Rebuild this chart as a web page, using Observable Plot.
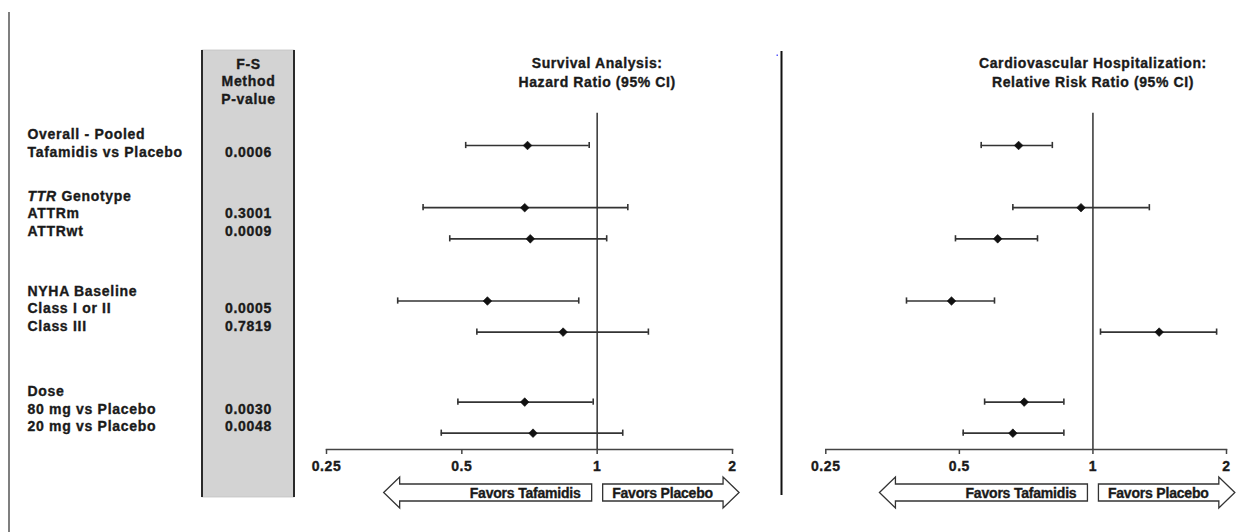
<!DOCTYPE html>
<html>
<head>
<meta charset="utf-8">
<script src="https://cdn.jsdelivr.net/npm/d3@7"></script>
<script src="https://cdn.jsdelivr.net/npm/@observablehq/plot@0.6"></script>
<style>
  body { margin: 0; background: #fff; }
  #wrap { position: relative; width: 1237px; height: 532px; overflow: hidden; background: #fff; }
  #wrap text { stroke: #1a1a1a; stroke-width: 0.35px; paint-order: stroke; }
</style>
</head>
<body>
<div id="wrap"></div>
<script>
// ---------------- DATA ----------------
const subgroups = ["Overall - Pooled Tafamidis vs Placebo", "ATTRm", "ATTRwt", "Class I or II", "Class III", "80 mg vs Placebo", "20 mg vs Placebo"];
const pValues = ["0.0006", "0.3001", "0.0009", "0.0005", "0.7819", "0.0030", "0.0048"];
// Survival analysis: hazard ratio (95% CI)
const hrEst = [0.70, 0.69, 0.71, 0.57, 0.84, 0.69, 0.72];
const hrLo  = [0.51, 0.41, 0.47, 0.36, 0.54, 0.49, 0.45];
const hrHi  = [0.96, 1.17, 1.05, 0.91, 1.30, 0.98, 1.14];
// CV hospitalization: relative risk ratio (95% CI)
const rrEst = [0.68, 0.94, 0.61, 0.48, 1.41, 0.70, 0.66];
const rrLo  = [0.56, 0.66, 0.49, 0.38, 1.04, 0.57, 0.51];
const rrHi  = [0.81, 1.34, 0.75, 0.60, 1.90, 0.86, 0.86];
const xTicks = [0.25, 0.5, 1, 2];
const tableLabels = ["Overall - Pooled", "Tafamidis vs Placebo", "TTR Genotype", "ATTRm", "ATTRwt", "NYHA Baseline", "Class I or II", "Class III", "Dose", "80 mg vs Placebo", "20 mg vs Placebo"];
const pHeader = ["F-S", "Method", "P-value"];
const panelTitles = [["Survival Analysis:", "Hazard Ratio (95% CI)"], ["Cardiovascular Hospitalization:", "Relative Risk Ratio (95% CI)"]];
const arrowLabels = ["Favors Tafamidis", "Favors Placebo"];

// ---------------- LAYOUT ----------------
const FONT = "'Liberation Sans', Arial, Helvetica, sans-serif";
const rowPos = [0, 2, 3, 5, 6, 8.25, 9.25];            // forest row slots
const labelLine = [0, 1, 3.5, 4.5, 5.5, 8.9, 9.9, 10.9, 14.6, 15.6, 16.6]; // table text lines
const pLine = [1, 4.5, 5.5, 9.9, 10.9, 15.6, 16.6];
const headLine = [-4, -3, -2];

const wrap = document.getElementById("wrap");

// background decorations
const deco = d3.create("svg").attr("width", 1237).attr("height", 532)
  .style("position", "absolute").style("left", "0").style("top", "0");
deco.append("line").attr("x1", 9).attr("x2", 9).attr("y1", 12).attr("y2", 532)
  .attr("stroke", "#555").attr("stroke-width", 1.5);
deco.append("rect").attr("x", 202).attr("y", 50).attr("width", 92).attr("height", 447)
  .attr("fill", "#d3d3d3").attr("stroke", "#c4c4c4").attr("stroke-width", 0.8);
deco.append("line").attr("x1", 202).attr("x2", 202).attr("y1", 50).attr("y2", 497).attr("stroke", "#2a2a2a").attr("stroke-width", 2);
deco.append("line").attr("x1", 294).attr("x2", 294).attr("y1", 50).attr("y2", 497).attr("stroke", "#2a2a2a").attr("stroke-width", 2);
deco.append("line").attr("x1", 781.5).attr("x2", 781.5).attr("y1", 51).attr("y2", 495)
  .attr("stroke", "#111").attr("stroke-width", 2);
deco.append("rect").attr("x", 776.5).attr("y", 54.5).attr("width", 1.5).attr("height", 1.5).attr("fill", "#5a5aff");
wrap.appendChild(deco.node());

// ---------------- TABLE ----------------
const labelRows = tableLabels.map((t, i) => ({t, line: labelLine[i]}));
const pRows = pValues.map((t, i) => ({t, line: pLine[i]}));
const headRows = pHeader.map((t, i) => ({t, line: headLine[i]}));
const table = Plot.plot({
  width: 300, height: 532, margin: 0,
  x: {type: "point", domain: ["label", "p"], range: [27, 248], padding: 0, align: 0, axis: null},
  y: {type: "linear", domain: [0, 16.6], range: [134, 426.2], axis: null},
  style: {position: "absolute", left: "0px", top: "0px", background: "transparent", fontFamily: FONT, fontSize: "14px", fontWeight: "bold", letterSpacing: "0.7px", color: "#1a1a1a"},
  marks: [
    Plot.text(labelRows, {x: () => "label", y: "line", text: "t", textAnchor: "start", fill: "#1a1a1a"}),
    Plot.text(pRows, {x: () => "p", y: "line", text: "t", fill: "#1a1a1a"}),
    Plot.text(headRows, {x: () => "p", y: "line", text: "t", fill: "#1a1a1a"})
  ]
});
// italic gene symbol in "TTR Genotype"
d3.select(table).selectAll("text").each(function() {
  if (this.textContent === "TTR Genotype") {
    this.textContent = "";
    d3.select(this).append("tspan").attr("font-style", "italic").text("TTR");
    d3.select(this).append("tspan").text(" Genotype");
  }
});
wrap.appendChild(table);

// ---------------- FOREST PANELS ----------------
function forest({est, lo, hi, titles, left, width, mL, mR}) {
  const data = subgroups.map((s, i) => ({s, est: est[i], lo: lo[i], hi: hi[i], row: rowPos[i]}));
  const plot = Plot.plot({
    width, height: 532, marginLeft: mL, marginRight: mR, marginTop: 0, marginBottom: 83,
    x: {type: "log", domain: [0.25, 2]},
    y: {type: "linear", domain: [0, 9.25], range: [145, 432.7], axis: null},
    style: {position: "absolute", left: left + "px", top: "0px", background: "transparent", fontFamily: FONT, fontSize: "14px", fontWeight: "bold", letterSpacing: "0.6px", overflow: "visible"},
    marks: [
      Plot.frame({anchor: "bottom", stroke: "#444", strokeWidth: 1.5}),
      Plot.axisX(xTicks, {tickSize: 5, tickPadding: 7, stroke: "#444", strokeWidth: 1.5, fill: "#1a1a1a", label: null, tickFormat: d => String(d)}),
      Plot.ruleX([1], {y1: -1.04, y2: 9.775, stroke: "#333", strokeWidth: 1.5}),
      Plot.ruleY(data, {x1: "lo", x2: "hi", y: "row", stroke: "#333", strokeWidth: 1.7}),
      Plot.ruleX(data, {x: "lo", y1: d => d.row - 0.1, y2: d => d.row + 0.1, stroke: "#333", strokeWidth: 1.6}),
      Plot.ruleX(data, {x: "hi", y1: d => d.row - 0.1, y2: d => d.row + 0.1, stroke: "#333", strokeWidth: 1.6}),
      Plot.dot(data, {x: "est", y: "row", symbol: "diamond2", r: 3.9, fill: "#111", stroke: "#111", strokeWidth: 0.6}),
      Plot.text([titles[0]], {x: () => 1, y: () => -2.646, text: d => d, fill: "#1a1a1a"}),
      Plot.text([titles[1]], {x: () => 1, y: () => -2.035, text: d => d, fill: "#1a1a1a"})
    ]
  });
  // direction arrows under the axis
  const x1 = plot.scale("x").apply(1);
  const cy = 492.5, hh = 15.5, sh = 8.5, head = 16;
  const g = d3.select(plot).append("g").attr("fill", "#fff").attr("stroke", "#333").attr("stroke-width", 1.3);
  const L = x1 - 213, R = x1 - 5;
  g.append("path").attr("d", `M${L},${cy}L${L + head},${cy - hh}V${cy - sh}H${R}V${cy + sh}H${L + head}V${cy + hh}Z`);
  const S = x1 + 6, T = S + 136.4;
  g.append("path").attr("d", `M${T},${cy}L${T - head},${cy - hh}V${cy - sh}H${S}V${cy + sh}H${T - head}V${cy + hh}Z`);
  const tg = d3.select(plot).append("g").attr("fill", "#1a1a1a").attr("font-size", 14).attr("letter-spacing", "-0.2px");
  tg.append("text").attr("x", x1 - 16).attr("y", cy + 0.5).attr("text-anchor", "end").attr("dominant-baseline", "central").text(arrowLabels[0]);
  tg.append("text").attr("x", x1 + 15.5).attr("y", cy + 0.5).attr("text-anchor", "start").attr("dominant-baseline", "central").text(arrowLabels[1]);
  return plot;
}

wrap.appendChild(forest({est: hrEst, lo: hrLo, hi: hrHi, titles: panelTitles[0], left: 300, width: 460, mL: 26, mR: 28}));
wrap.appendChild(forest({est: rrEst, lo: rrLo, hi: rrHi, titles: panelTitles[1], left: 790, width: 447, mL: 35.3, mR: 11}));
</script>
</body>
</html>
